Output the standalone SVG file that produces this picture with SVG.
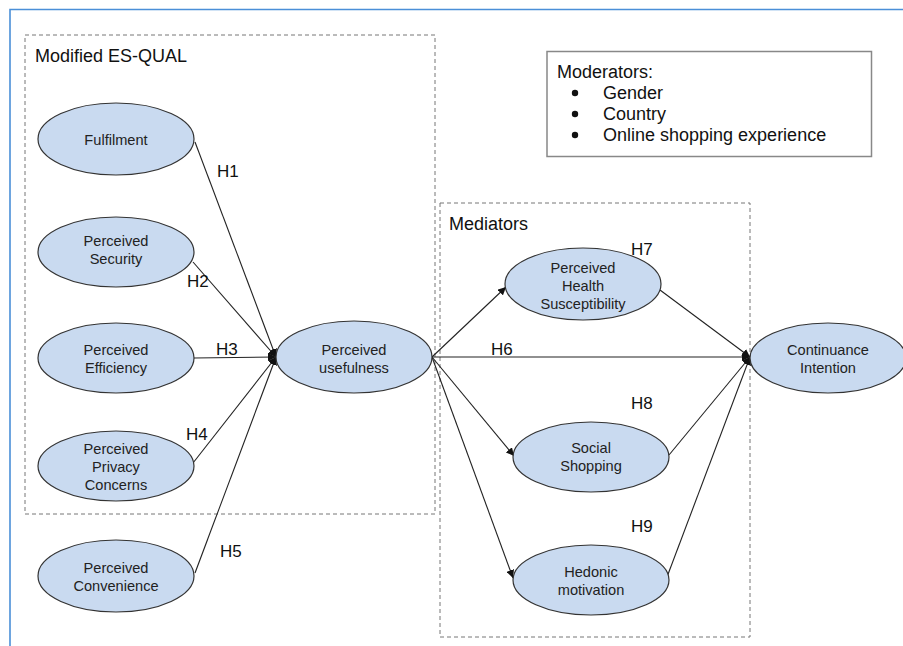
<svg xmlns="http://www.w3.org/2000/svg" width="903" height="646" viewBox="0 0 903 646">
<defs>
<marker id="arr" viewBox="0 0 10 10" refX="10" refY="5" markerWidth="8" markerHeight="8" markerUnits="userSpaceOnUse" orient="auto">
<path d="M0,0 L10,5 L0,10 z" fill="#111"/>
</marker>
<style>
.node ellipse{fill:#c9daf0;stroke:#333;stroke-width:1.2}
.node text{font-family:"Liberation Sans",Arial,sans-serif;font-size:14.6px;fill:#222;text-anchor:middle}
.lbl{font-family:"Liberation Sans",Arial,sans-serif;font-size:17px;fill:#111}
.big{font-family:"Liberation Sans",Arial,sans-serif;font-size:18px;fill:#111}
.grp{fill:none;stroke:#777;stroke-width:1;stroke-dasharray:4 3}
#connectors line{stroke:#222;stroke-width:1.1;marker-end:url(#arr)}
</style>
</defs>
<rect width="903" height="646" fill="#fff"/>
<path d="M10,646 V9.5 H903" fill="none" stroke="#4a8fd8" stroke-width="1.6"/>

<g id="group-esqual">
<rect class="grp" x="25" y="35" width="410" height="479"/>
<text class="big" x="35" y="62">Modified ES-QUAL</text>
</g>
<g id="group-mediators">
<rect class="grp" x="440" y="203" width="310" height="434"/>
<text class="big" x="449" y="230">Mediators</text>
</g>
<g id="moderators">
<rect x="547" y="51.5" width="324.5" height="105" fill="#fff" stroke="#888" stroke-width="1.5"/>
<text class="big" x="557" y="78">Moderators:</text>
<circle cx="575" cy="93" r="3.2" fill="#111"/>
<circle cx="575" cy="114" r="3.2" fill="#111"/>
<circle cx="575" cy="135" r="3.2" fill="#111"/>
<text class="big" x="603" y="99">Gender</text>
<text class="big" x="603" y="120">Country</text>
<text class="big" x="603" y="141">Online shopping experience</text>
</g>

<g id="connectors">
<line x1="195" y1="142" x2="276" y2="357"/>
<line x1="193" y1="262" x2="276" y2="357"/>
<line x1="194" y1="358" x2="276" y2="357"/>
<line x1="193" y1="463" x2="276" y2="357"/>
<line x1="195" y1="573" x2="276" y2="357"/>
<line x1="432" y1="357" x2="506" y2="287"/>
<line x1="432" y1="357" x2="750" y2="357"/>
<line x1="432" y1="357" x2="514" y2="456"/>
<line x1="432" y1="357" x2="513" y2="578"/>
<line x1="660" y1="290" x2="750" y2="357"/>
<line x1="669" y1="455" x2="750" y2="357"/>
<line x1="667" y1="577" x2="750" y2="357"/>
</g>

<g id="hyp-labels">
<text class="lbl" x="217" y="177">H1</text>
<text class="lbl" x="187" y="287">H2</text>
<text class="lbl" x="216" y="355">H3</text>
<text class="lbl" x="186" y="440">H4</text>
<text class="lbl" x="220" y="557">H5</text>
<text class="lbl" x="491" y="355">H6</text>
<text class="lbl" x="631" y="255">H7</text>
<text class="lbl" x="631" y="409">H8</text>
<text class="lbl" x="631" y="532">H9</text>
</g>

<g id="fulfilment" class="node">
<ellipse cx="116" cy="139" rx="78" ry="36"/>
<text x="116" y="145">Fulfilment</text>
</g>
<g id="security" class="node">
<ellipse cx="116" cy="252" rx="78" ry="35"/>
<text x="116" y="246">Perceived</text>
<text x="116" y="264">Security</text>
</g>
<g id="efficiency" class="node">
<ellipse cx="116" cy="358" rx="78" ry="35"/>
<text x="116" y="355">Perceived</text>
<text x="116" y="373">Efficiency</text>
</g>
<g id="privacy" class="node">
<ellipse cx="116" cy="466" rx="78" ry="35"/>
<text x="116" y="454">Perceived</text>
<text x="116" y="472">Privacy</text>
<text x="116" y="490">Concerns</text>
</g>
<g id="convenience" class="node">
<ellipse cx="116" cy="576" rx="78" ry="36"/>
<text x="116" y="573">Perceived</text>
<text x="116" y="591">Convenience</text>
</g>
<g id="usefulness" class="node">
<ellipse cx="354" cy="357" rx="78" ry="36"/>
<text x="354" y="355">Perceived</text>
<text x="354" y="373">usefulness</text>
</g>
<g id="health" class="node">
<ellipse cx="583" cy="284" rx="78" ry="36"/>
<text x="583" y="273">Perceived</text>
<text x="583" y="291">Health</text>
<text x="583" y="309">Susceptibility</text>
</g>
<g id="social" class="node">
<ellipse cx="591" cy="457" rx="78" ry="35"/>
<text x="591" y="453">Social</text>
<text x="591" y="471">Shopping</text>
</g>
<g id="hedonic" class="node">
<ellipse cx="591" cy="580" rx="78" ry="35"/>
<text x="591" y="577">Hedonic</text>
<text x="591" y="595">motivation</text>
</g>
<g id="continuance" class="node">
<ellipse cx="828" cy="358" rx="78" ry="35"/>
<text x="828" y="355">Continuance</text>
<text x="828" y="373">Intention</text>
</g>
</svg>
